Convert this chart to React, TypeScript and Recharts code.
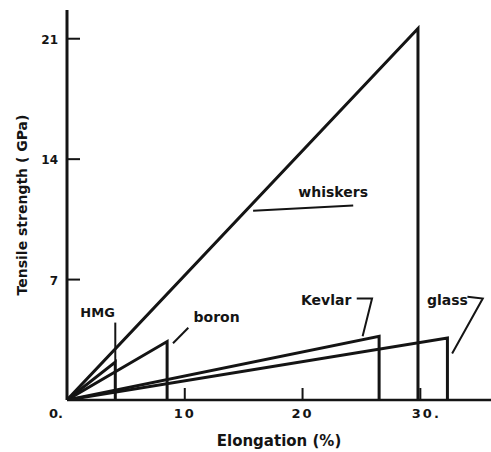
import { LineChart, Line, XAxis, YAxis, ReferenceDot } from "recharts";

// failure points: elongation (%) and tensile strength (GPa)
const fibres = ["HMG", "boron", "Kevlar", "glass", "whiskers"];
const elongation = [4.1, 8.5, 26.5, 32.3, 29.8];
const strength = [2.2, 3.4, 3.7, 3.6, 21.6];

const xTicks = [0, 10, 20, 30];
const yTicks = [7, 14, 21];

// where each fibre name sits, in data units
const labelX = [2.6, 12.7, 22.0, 32.3, 22.6];
const labelY = [5.1, 4.8, 5.8, 5.8, 12.1];

// leader line points for each name
const leaderX = [
  [4.1, 4.1],
  [10.3, 9.0],
  [24.6, 25.9, 25.1],
  [34.0, 35.3, 32.7],
  [15.8, 24.3],
];
const leaderY = [
  [2.2, 4.5],
  [4.2, 3.3],
  [5.9, 5.9, 3.7],
  [6.0, 5.9, 2.7],
  [11.0, 11.3],
];

const INK = "#141414";
const FONT = "'DejaVu Sans', sans-serif";

const curves = fibres.map((name, i) => ({
  name,
  data: [
    { x: 0, y: 0 },
    { x: elongation[i], y: strength[i] },
    { x: elongation[i], y: 0 },
  ],
}));

const leaders = fibres.map((name, i) => ({
  name,
  data: leaderX[i].map((x, j) => ({ x, y: leaderY[i][j] })),
}));

const XTick = (props: any) => {
  const { x, y, payload } = props;
  const v = payload.value;
  const text = v === 0 ? "0." : v === 30 ? "30." : String(v);
  return (
    <g>
      {v !== 0 && <line x1={x} y1={y} x2={x} y2={y - 12} stroke={INK} strokeWidth={2} />}
      <text
        x={v === 0 ? x - 4 : v === 30 ? x + 6 : x}
        y={y + 18}
        textAnchor={v === 0 ? "end" : "middle"}
        fontFamily={FONT}
        fontSize={13}
        fontWeight="bold"
        letterSpacing={v === 0 ? 0 : 2}
        fill={INK}
      >
        {text}
      </text>
    </g>
  );
};

const YTick = (props: any) => {
  const { x, y, payload } = props;
  return (
    <g>
      <line x1={x + 8} y1={y} x2={x + 21} y2={y} stroke={INK} strokeWidth={2} />
      <text x={x - 1} y={y + 5} textAnchor="end" fontFamily={FONT} fontSize={12} fontWeight="bold" fill={INK}>
        {payload.value}
      </text>
    </g>
  );
};

export default function App() {
  return (
    <div style={{ position: "absolute", left: 0, top: 0, background: "#fff" }}>
      <LineChart width={491} height={452} margin={{ top: 10, right: 0, left: 0, bottom: 0 }}>
        <XAxis
          type="number"
          dataKey="x"
          domain={[0, 36]}
          ticks={xTicks}
          height={52}
          tickSize={0}
          tickMargin={0}
          tick={<XTick />}
          axisLine={{ stroke: INK, strokeWidth: 2.5 }}
          tickLine={false}
          allowDataOverflow
          label={{
            value: "Elongation (%)",
            position: "insideBottom",
            offset: 6,
            style: { fontFamily: FONT, fontSize: 15, fontWeight: "bold", fill: INK },
          }}
        />
        <YAxis
          type="number"
          dataKey="y"
          domain={[0, 22.67]}
          ticks={yTicks}
          width={67}
          tickSize={0}
          tickMargin={8}
          tick={<YTick />}
          axisLine={{ stroke: INK, strokeWidth: 3 }}
          tickLine={false}
          allowDataOverflow
          label={{
            value: "Tensile strength ( GPa)",
            angle: -90,
            position: "insideLeft",
            offset: 22,
            style: { fontFamily: FONT, fontSize: 14, fontWeight: "bold", fill: INK, textAnchor: "middle" },
          }}
        />
        {curves.map((c) => (
          <Line
            key={c.name}
            data={c.data}
            dataKey="y"
            type="linear"
            stroke={INK}
            strokeWidth={3}
            dot={false}
            activeDot={false}
            isAnimationActive={false}
          />
        ))}
        {leaders.map((l) => (
          <Line
            key={"leader-" + l.name}
            data={l.data}
            dataKey="y"
            type="linear"
            stroke={INK}
            strokeWidth={2}
            dot={false}
            activeDot={false}
            isAnimationActive={false}
          />
        ))}
        {fibres.map((name, i) => (
          <ReferenceDot
            key={"label-" + name}
            x={labelX[i]}
            y={labelY[i]}
            r={0}
            stroke="none"
            fill="none"
            label={{
              value: name,
              position: "center",
              style: { fontFamily: FONT, fontSize: i === 0 ? 13 : 14, fontWeight: "bold", fill: INK },
            }}
          />
        ))}
      </LineChart>
    </div>
  );
}
